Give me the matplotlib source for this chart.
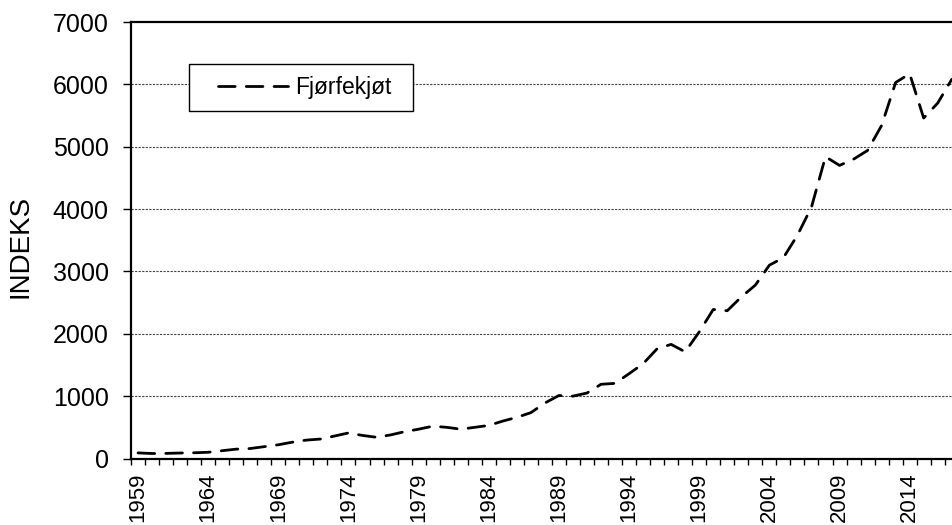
import matplotlib
matplotlib.use("Agg")
import matplotlib.pyplot as plt
from matplotlib.ticker import FixedLocator
from matplotlib.patches import Rectangle

plt.rcParams['font.family'] = ['Liberation Sans', 'DejaVu Sans']

years = list(range(1959, 2018))
values = [90, 80, 82, 88, 92, 100, 125, 150, 160, 190,
          220, 262, 295, 312, 360, 410, 370, 340, 378, 430,
          470, 518, 500, 470, 500, 530, 600, 660, 735, 890,
          1010, 1000, 1050, 1190, 1205, 1360, 1520, 1760, 1830, 1710,
          2030, 2390, 2370, 2590, 2780, 3100, 3220, 3580, 4030, 4840,
          4700, 4800, 4940, 5340, 6030, 6170, 5460, 5700, 6080]
series_name = "Fjørfekjøt"
label_years = list(range(1959, 2015, 5))
y_ticks = list(range(0, 7001, 1000))

W, H = 952, 525
fig = plt.figure(figsize=(W / 100, H / 100), dpi=100)
slot = 14.03
x0_px, y0_px, ytop_px = 131, 458.5, 22
xmin, xmax = 1958.5, 2018.5
ax_w_px = (xmax - xmin) * slot
ax = fig.add_axes([x0_px / W, (H - y0_px) / H, ax_w_px / W, (y0_px - ytop_px) / H])

ax.plot(years, values, color='black', lw=2, linestyle=(0, (6, 4)),
        dash_capstyle='round', label=series_name, zorder=3)

ax.set_xlim(xmin, xmax)
ax.set_ylim(0, 7000)

# y axis
ax.yaxis.set_major_locator(FixedLocator(y_ticks))
ax.set_yticklabels([str(v) for v in y_ticks], fontsize=18)
ax.tick_params(axis='y', direction='out', length=6, width=1, pad=10, colors='black')
for v in y_ticks[1:-1]:
    ax.axhline(v, color='#444444', lw=0.8, linestyle=(0, (2, 1.2)), zorder=1)

# x axis: ticks at year boundaries, labels at centres
ax.xaxis.set_major_locator(FixedLocator(label_years))
ax.set_xticklabels([str(y) for y in label_years], rotation=90, fontsize=16)
ax.tick_params(axis='x', which='major', length=0, pad=10)
ax.xaxis.set_minor_locator(FixedLocator([y - 0.5 for y in range(1959, 2020)]))
ax.tick_params(axis='x', which='minor', direction='out', length=4.5, width=1, colors='black')

for s in ['left', 'bottom', 'top']:
    ax.spines[s].set_linewidth(1.6)
ax.spines['right'].set_visible(False)

ax.set_ylabel("INDEKS", fontsize=20)
ax.yaxis.set_label_coords(-(x0_px - 34) / ax_w_px, 0.486)

# legend box
box = Rectangle((189 / W, 1 - 111 / H), 224 / W, 47 / H, transform=fig.transFigure,
                facecolor='white', edgecolor='black', linewidth=1.0, zorder=4)
ax.add_artist(box)
box.set_clip_on(False)

leg = ax.legend(loc='center left', bbox_to_anchor=(218 / W, 1 - 87.5 / H),
                bbox_transform=fig.transFigure, frameon=False,
                fontsize=16.5, handlelength=3.05, handletextpad=0.3, borderpad=0,
                borderaxespad=0)
leg.set_zorder(5)

fig.savefig("out.png", dpi=100)
